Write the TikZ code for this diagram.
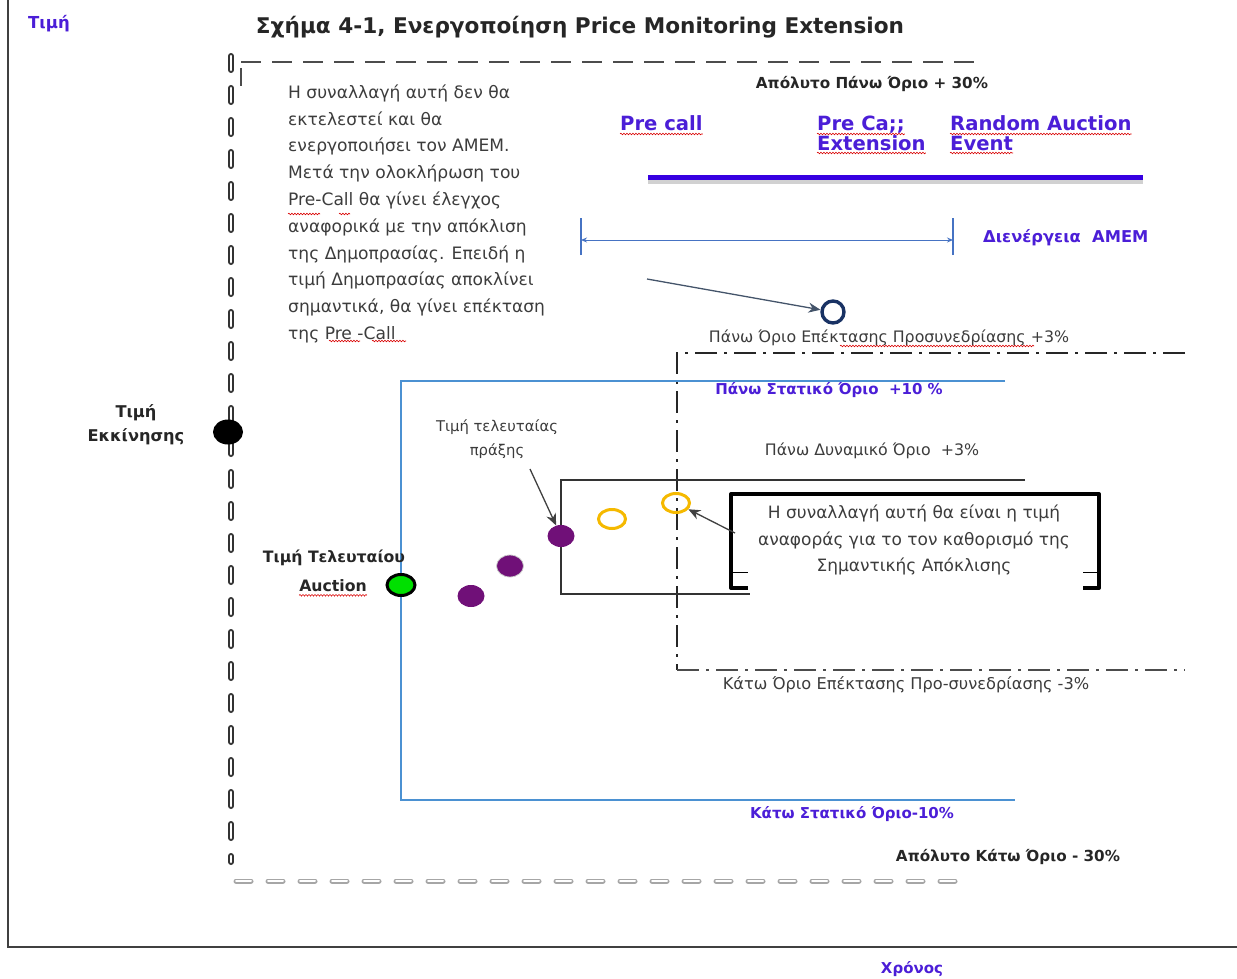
\documentclass[tikz,border=0pt]{standalone}
\usepackage{fontspec}
\setmainfont{DejaVu Sans}
\usetikzlibrary{arrows.meta,decorations.pathmorphing,shapes.geometric}
\definecolor{tblue}{RGB}{75,30,215}
\definecolor{barblue}{RGB}{55,0,225}
\definecolor{sblue}{RGB}{75,145,210}
\definecolor{ablue}{RGB}{70,115,195}
\definecolor{txtc}{RGB}{60,60,60}
\definecolor{purp}{RGB}{112,16,120}
\definecolor{goldc}{RGB}{245,185,0}
\definecolor{navyc}{RGB}{25,50,100}
\definecolor{arrc}{RGB}{68,84,106}
\definecolor{greenc}{RGB}{0,224,0}
\tikzset{
  plain/.style={inner sep=0pt, text=txtc, font=\fontsize{15.8}{18}\selectfont},
  darkb/.style={inner sep=0pt, text=black!85, font=\fontsize{15.2}{24}\selectfont\bfseries},
  bluet/.style={inner sep=0pt, text=tblue, font=\fontsize{15}{18}\selectfont\bfseries},
  bigblue/.style={inner sep=0pt, text=tblue, font=\fontsize{19.6}{20}\selectfont\bfseries},
  squig/.style={draw=red!85!black, line width=0.6pt, decorate, decoration={snake, amplitude=0.8pt, segment length=3pt}},
  dashouter/.style={draw=gray!40!black, line width=6pt, line cap=round, dash pattern=on 14pt off 18pt},
  dashinner/.style={draw=white, line width=2.6pt, line cap=round, dash pattern=on 14pt off 18pt},
  topdash/.style={draw=black!70, line width=2.4pt, dash pattern=on 20pt off 11pt},
  dashdot/.style={draw=black!85, line width=2.6pt, dash pattern=on 22pt off 7pt on 3pt off 7pt},
  dashdotthin/.style={draw=black!70, line width=1.4pt, dash pattern=on 22pt off 7pt on 3pt off 7pt},
  dot/.style={ellipse, inner sep=0pt},
  arr/.style={-{Stealth[length=12pt,width=10pt]}, line width=1.3pt},
}
\begin{document}
\begin{tikzpicture}[x=1pt,y=-1pt]
\useasboundingbox (0,0) rectangle (1237,979);
% axes
\coordinate (ytop) at (8,0);
\coordinate (orig) at (8,947);
\coordinate (xend) at (1237,947);
\draw[black!75, line width=1.6pt] (ytop) -- (orig) -- (xend);
\node[bluet, font=\fontsize{16.5}{18}\selectfont\bfseries] (lprice) at (49,24) {Τιμή};
\node[bluet] (ltime) at (912,969) {Χρόνος};
% title
\node[inner sep=0pt, text=black!85, font=\fontsize{21.6}{24}\selectfont\bfseries] (title) at (580,27) {Σχήμα 4-1, Ενεργοποίηση Price Monitoring Extension};
% absolute limits
\coordinate (vd1) at (231,56);
\coordinate (vd2) at (231,862);
\draw[dashouter] (vd1) -- (vd2);
\draw[dashinner] (vd1) -- (vd2);
\coordinate (td1) at (241,62);
\coordinate (td2) at (985,62);
\draw[topdash] (td1) -- (td2);
\coordinate (tk1) at (241,68);
\coordinate (tk2) at (241,86);
\draw[black!70, line width=2.4pt] (tk1) -- (tk2);
\coordinate (bd1) at (236,881);
\coordinate (bd2) at (970,881);
\draw[dashouter, draw=gray!70, line width=5pt, dash pattern=on 15pt off 17pt] (bd1) -- (bd2);
\draw[dashinner, line width=2pt, dash pattern=on 15pt off 17pt] (bd1) -- (bd2);
\node[darkb] (absup) at (872,84) {Απόλυτο Πάνω Όριο + 30\%};
\node[darkb] (absdn) at (1008,857) {Απόλυτο Κάτω Όριο - 30\%};
% phases
\node[bigblue, anchor=base west] (pc) at (620,131) {Pre call};
\node[bigblue, anchor=base west] (pce1) at (817,131) {Pre Ca;;};
\node[bigblue, anchor=base west] (pce2) at (817,150) {Extension};
\node[bigblue, anchor=base west] (rae1) at (950,131) {Random Auction};
\node[bigblue, anchor=base west] (rae2) at (950,150) {Event};
\foreach \n in {pc,pce1,pce2,rae1,rae2}{
  \draw[squig] ([yshift=-3pt]\n.base west) -- ([yshift=-3pt]\n.base east);
}
\coordinate (bb1) at (648,177);
\coordinate (bb2) at (1143,177);
\draw[black!18, line width=4pt] ([yshift=-5pt]bb1) -- ([yshift=-5pt]bb2);
\draw[barblue, line width=5pt] (bb1) -- (bb2);
% AMEM span
\coordinate (am1) at (581,240);
\coordinate (am2) at (953,240);
\draw[ablue, line width=1.1pt] ([yshift=-15pt]am1) -- ([yshift=22pt]am1);
\draw[ablue, line width=1.1pt] ([yshift=-15pt]am2) -- ([yshift=22pt]am2);
\draw[ablue, line width=1pt, {Stealth[length=6pt,width=5pt]}-{Stealth[length=6pt,width=5pt]}] (am1) -- (am2);
\node[bluet, anchor=west, font=\fontsize{16.3}{18}\selectfont\bfseries] (amem) at (983,238) {Διενέργεια\ \ AMEM};
% paragraph
\node[plain, anchor=north west, align=left, font=\fontsize{17.1}{26.8}\selectfont] (para) at (288,84.5) {Η συναλλαγή αυτή δεν θα\\εκτελεστεί και θα\\ενεργοποιήσει τον AMEM.\\Μετά την ολοκλήρωση του\\Pre-Call θα γίνει έλεγχος\\αναφορικά με την απόκλιση\\της Δημοπρασίας. Επειδή η\\τιμή Δημοπρασίας αποκλίνει\\σημαντικά, θα γίνει επέκταση\\της Pre -Call};
\coordinate (sq1a) at (288,214); \coordinate (sq1b) at (320,214);
\draw[squig] (sq1a) -- (sq1b);
\coordinate (sq2a) at (339,214); \coordinate (sq2b) at (350,214);
\draw[squig] (sq2a) -- (sq2b);
\coordinate (sq3a) at (329,341); \coordinate (sq3b) at (360,341);
\draw[squig] (sq3a) -- (sq3b);
\coordinate (sq4a) at (372,341); \coordinate (sq4b) at (406,341);
\draw[squig] (sq4a) -- (sq4b);
% pre-session extension limits
\node[draw=navyc, line width=3.4pt, circle, minimum size=22pt, inner sep=0pt] (navy) at (833,312) {};
\coordinate (pa1) at (647,279);
\draw[arr, arrc] (pa1) -- (navy);
\node[plain] (pextup) at (889,338) {Πάνω Όριο Επέκτασης Προσυνεδρίασης +3\%};
\coordinate (sq5a) at (840,346); \coordinate (sq5b) at (1034,346);
\draw[squig] (sq5a) -- (sq5b);
\coordinate (dd1) at (1185,353);
\coordinate (dd2) at (677,353);
\coordinate (dd3) at (677,670);
\coordinate (dd4) at (1185,670);
\draw[dashdot] (dd1) -- (dd2) -- (dd3);
\draw[dashdotthin] (dd3) -- (dd4);
\node[plain, font=\fontsize{16.2}{18}\selectfont] (pextdn) at (906,685) {Κάτω Όριο Επέκτασης Προ-συνεδρίασης -3\%};
% static limits
\coordinate (st1) at (1005,381);
\coordinate (st2) at (401,381);
\coordinate (st3) at (401,800);
\coordinate (st4) at (1015,800);
\draw[sblue, line width=1.5pt] (st1) -- (st2) -- (st3) -- (st4);
\node[bluet] (statup) at (829,390) {Πάνω Στατικό Όριο\ \ +10 \%};
\node[bluet] (statdn) at (852,814) {Κάτω Στατικό Όριο-10\%};
% dynamic limit box
\coordinate (dy1) at (1025,480);
\coordinate (dy2) at (561,480);
\coordinate (dy3) at (561,594);
\coordinate (dy4) at (750,594);
\draw[black!80, line width=1.2pt] (dy1) -- (dy2) -- (dy3) -- (dy4);
\node[plain] (dynup) at (872,451) {Πάνω Δυναμικό Όριο\ \ +3\%};
% start price
\node[darkb, align=center, font=\fontsize{16.2}{24}\selectfont\bfseries] (startlbl) at (136,425) {Τιμή\\Εκκίνησης};
\node[dot, fill=black, minimum width=30pt, minimum height=25pt] (start) at (228,432) {};
% last auction price
\node[darkb, font=\fontsize{15.7}{24}\selectfont\bfseries] (lastau1) at (334,558) {Τιμή Τελευταίου};
\node[darkb, font=\fontsize{15.7}{24}\selectfont\bfseries] (lastau2) at (333,586) {Auction};
\draw[squig] ([yshift=-3pt]lastau2.south west) -- ([yshift=-3pt]lastau2.south east);
\node[dot, fill=greenc, draw=black, line width=3pt, minimum width=28pt, minimum height=21pt] (green) at (401,585) {};
% trades
\node[dot, fill=purp, minimum width=27pt, minimum height=22pt] (p1) at (471,596) {};
\node[dot, fill=purp, draw=gray!40, line width=0.8pt, minimum width=27pt, minimum height=22pt] (p2) at (510,566) {};
\node[dot, fill=purp, minimum width=27pt, minimum height=22pt] (p3) at (561,536) {};
\node[plain, font=\fontsize{14.8}{24}\selectfont, align=center, text=txtc] (lastlbl) at (497,439) {Τιμή τελευταίας\\πράξης};
\coordinate (la1) at (530,469);
\draw[arr, black!75] (la1) -- (p3);
\node[dot, draw=goldc, line width=3pt, minimum width=27pt, minimum height=19pt] (g1) at (612,519) {};
\node[dot, draw=goldc, line width=3pt, minimum width=27pt, minimum height=19pt] (g2) at (676,503) {};
% reference box
\coordinate (rb1) at (748,588);
\coordinate (rb2) at (731,588);
\coordinate (rb3) at (731,494);
\coordinate (rb4) at (1099,494);
\coordinate (rb5) at (1099,588);
\coordinate (rb6) at (1083,588);
\draw[black, line width=4pt, line join=round] (rb1) -- (rb2) -- (rb3) -- (rb4) -- (rb5) -- (rb6);
\coordinate (rt1) at (731,572); \coordinate (rt2) at (748,572);
\coordinate (rt3) at (1083,572); \coordinate (rt4) at (1099,572);
\draw[black, line width=1pt] (rt1) -- (rt2);
\draw[black, line width=1pt] (rt3) -- (rt4);
\node[plain, align=center, font=\fontsize{17}{26.5}\selectfont] (reftxt) at (914,540) {Η συναλλαγή αυτή θα είναι η τιμή\\αναφοράς για το τον καθορισμό της\\Σημαντικής Απόκλισης};
\coordinate (ra1) at (735,533);
\draw[arr, black!75] (ra1) -- (g2);
\end{tikzpicture}
\end{document}
